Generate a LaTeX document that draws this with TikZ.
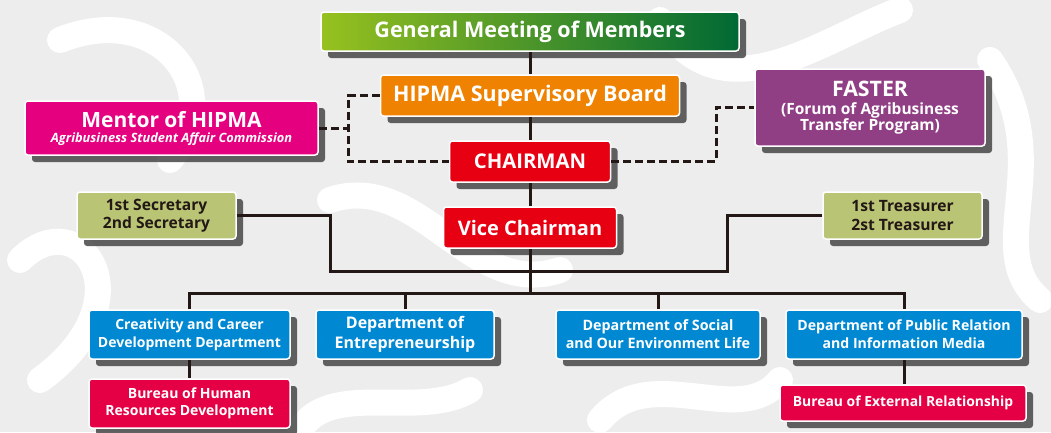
\documentclass[tikz,border=0pt]{standalone}
\usepackage{fontspec}
\setmainfont{Open Sans}
\usetikzlibrary{shadows}
\definecolor{bgc}{HTML}{EDEDED}
\definecolor{gA}{HTML}{97C11F}
\definecolor{gB}{HTML}{006934}
\definecolor{orangeB}{HTML}{EF8200}
\definecolor{magB}{HTML}{E4007F}
\definecolor{redB}{HTML}{E60012}
\definecolor{purpB}{HTML}{913F85}
\definecolor{oliveB}{HTML}{B9C575}
\definecolor{blueB}{HTML}{0089D2}
\definecolor{crimB}{HTML}{E50045}
\definecolor{lineC}{HTML}{231815}
\begin{document}
\begin{tikzpicture}[x=1pt,y=-1pt,
  box/.style={rounded corners=3pt, draw=white, line width=1.5pt, text=white, align=center, inner sep=0pt,
    font=\bfseries, drop shadow={shadow xshift=7pt, shadow yshift=-7pt, fill=black!72, opacity=.85}},
  conn/.style={draw=lineC, line width=3pt},
  dconn/.style={draw=lineC, line width=3pt, dash pattern=on 8pt off 4pt},
  swirl/.style={white, line width=26pt, line cap=round}]
\useasboundingbox (0,0) rectangle (1051,432);
% background
\begin{scope}
\clip (0,0) rectangle (1051,432);
\fill[bgc] (0,0) rectangle (1051,432);
\draw[swirl] (60,40) .. controls (160,0) and (230,90) .. (170,160);
\draw[swirl] (20,260) .. controls (80,200) and (150,300) .. (40,380);
\draw[swirl] (330,200) .. controls (420,170) and (470,300) .. (560,270);
\draw[swirl] (660,20) .. controls (720,120) and (820,40) .. (900,10);
\draw[swirl] (990,60) .. controls (1060,160) and (980,250) .. (1040,300);
\draw[swirl] (600,420) .. controls (650,360) and (740,430) .. (780,380);
\draw[swirl] (300,430) .. controls (330,380) and (420,420) .. (470,390);
\end{scope}
% nodes
\node[box, left color=gA, right color=gB, minimum width=418pt, minimum height=39pt,
  font=\bfseries\fontsize{21.5}{23}\selectfont] (gen) at (530,31.5) {General Meeting of Members};
\node[box, fill=orangeB, minimum width=299pt, minimum height=41pt,
  font=\bfseries\fontsize{21.5}{24}\selectfont] (sup) at (530,95.5) {HIPMA Supervisory Board};
\node[box, fill=magB, minimum width=293pt, minimum height=54pt, font=\bfseries] (mentor) at (171.5,128)
  {\fontsize{21}{21}\selectfont Mentor of HIPMA\\[3pt]\fontsize{12.8}{14}\selectfont\itshape Agribusiness Student Affair Commission};
\node[box, fill=redB, minimum width=161pt, minimum height=41pt,
  font=\bfseries\fontsize{20.3}{23}\selectfont] (chair) at (530,161.5) {CHAIRMAN};
\node[box, fill=purpB, minimum width=230pt, minimum height=77pt, font=\bfseries] (faster) at (870,107.5)
  {\fontsize{21.3}{21}\selectfont FASTER\\[5pt]\fontsize{15.5}{19}\selectfont (Forum of Agribusiness\\\fontsize{15.5}{19}\selectfont Transfer Program)};
\node[box, fill=oliveB, text=lineC, minimum width=159pt, minimum height=47pt,
  font=\bfseries\fontsize{15.6}{18.5}\selectfont] (sec) at (156.5,215.5) {1st Secretary\\2nd Secretary};
\node[box, fill=redB, minimum width=173pt, minimum height=41pt,
  font=\bfseries\fontsize{20}{22}\selectfont] (vice) at (530,227.5) {Vice Chairman};
\node[box, fill=oliveB, text=lineC, minimum width=159pt, minimum height=47pt,
  font=\bfseries\fontsize{15.6}{18.5}\selectfont] (treas) at (902.5,215.5) {1st Treasurer\\2st Treasurer};
\node[box, fill=blueB, minimum width=201pt, minimum height=49pt,
  font=\bfseries\fontsize{14}{18}\selectfont] (d1) at (189.5,334.5) {Creativity and Career\\Development Department};
\node[box, fill=blueB, minimum width=178pt, minimum height=49pt,
  font=\bfseries\fontsize{16}{19.5}\selectfont] (d2) at (405,334.5) {Department of\\Entrepreneurship};
\node[box, fill=blueB, minimum width=204pt, minimum height=49pt,
  font=\bfseries\fontsize{14.3}{18}\selectfont] (d3) at (658,334.5) {Department of Social\\and Our Environment Life};
\node[box, fill=blueB, minimum width=236pt, minimum height=49pt,
  font=\bfseries\fontsize{14.1}{18}\selectfont] (d4) at (904,334.5) {Department of Public Relation\\and Information Media};
\node[box, fill=crimB, minimum width=201pt, minimum height=49pt,
  font=\bfseries\fontsize{14}{17.5}\selectfont] (b1) at (189.5,403.5) {Bureau of Human\\Resources Development};
\node[box, fill=crimB, minimum width=246pt, minimum height=36pt,
  font=\bfseries\fontsize{13.9}{17}\selectfont] (b2) at (903,403) {Bureau of External Relationship};
% helper coordinates
\coordinate (bus) at (530,293);
\coordinate (sj) at (330,271);
\coordinate (tj) at (727,271);
\coordinate (dl) at (348,130);
\coordinate (dr) at (716,130);
% solid connectors
\draw[conn] (gen.south) -- (sup.north);
\draw[conn] (sup.south) -- (chair.north);
\draw[conn] (chair.south) -- (vice.north);
\draw[conn] (vice.south) -- (bus);
\draw[conn] (sec.east) -| (sj) -- (sj -| vice.south);
\draw[conn] (treas.west) -| (tj) -- (tj -| vice.south);
\draw[conn] (d1.north) -- (d1.north |- bus) -- (d4.north |- bus) -- (d4.north);
\draw[conn] (d2.north) -- (d2.north |- bus);
\draw[conn] (d3.north) -- (d3.north |- bus);
\draw[conn] (d1.south) -- (b1.north);
\draw[conn] (d4.south) -- (d4.south |- b2.north);
% dashed connectors
\draw[dconn] (sup.west) -- (sup.west -| dl) -- (dl |- chair.west) -- (chair.west);
\draw[dconn] (mentor.east) -- (mentor.east -| dl);
\draw[dconn] (chair.east) -- (chair.east -| dr) -- (dr |- faster.west) -- (faster.west);
\end{tikzpicture}
\end{document}
